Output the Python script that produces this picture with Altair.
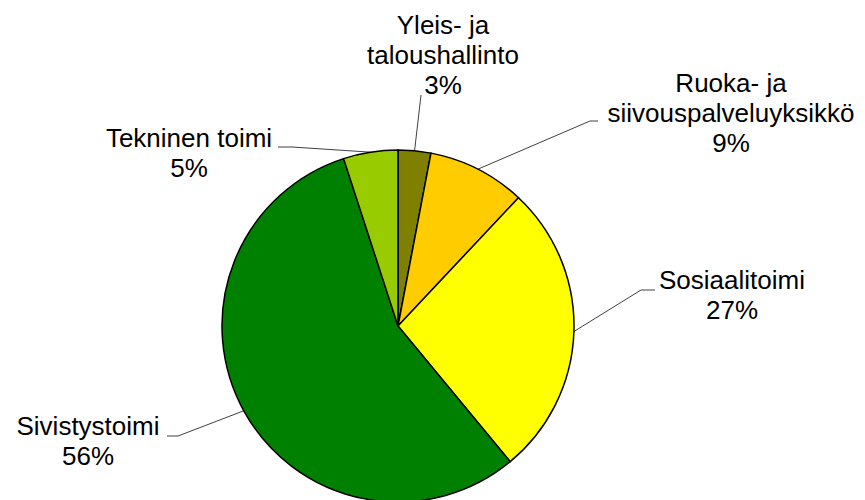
import math
import altair as alt
import pandas as pd

# ---- data ----
categories = ["Yleis- ja taloushallinto", "Ruoka- ja siivouspalveluyksikkö",
              "Sosiaalitoimi", "Sivistystoimi", "Tekninen toimi"]
label_lines = [["Yleis- ja", "taloushallinto"], ["Ruoka- ja", "siivouspalveluyksikkö"],
               ["Sosiaalitoimi"], ["Sivistystoimi"], ["Tekninen toimi"]]
values = [3, 9, 27, 56, 5]

# ---- style / layout ----
colors = ["#808000", "#ffcc00", "#ffff00", "#008000", "#99cc00"]
W, H = 849, 492
CX, CY, R = 390, 318, 176
label_x = [435, 723, 724, 80, 181]
label_y = [26, 84, 281, 427, 139]
elbow_pts = [(413, 87), (582, 113), (633, 282), (170, 428), (284, 139)]
end_pts = [(413, 87), (590, 113), (647, 282), (159, 428), (270, 139)]

df = pd.DataFrame({
    "category": categories,
    "value": values,
    "idx": list(range(len(categories))),
})
df["label"] = [ "\n".join(l + [f"{v}%"]) for l, v in zip(label_lines, values)]
df["lx"] = label_x
df["ly"] = label_y

# leader lines: from slice mid-angle on the rim to the label
total = sum(values)
rows = []
cum = 0
for i, (c, v) in enumerate(zip(categories, values)):
    mid = (cum + v / 2) / total * 2 * math.pi
    cum += v
    ex = CX + R * math.sin(mid)
    ey = CY - R * math.cos(mid)
    pts = [(ex, ey), elbow_pts[i], end_pts[i]]
    for k, (px, py) in enumerate(pts):
        rows.append({"category": c, "k": k, "px": px, "py": py})
lines_df = pd.DataFrame(rows)

pie = alt.Chart(df).mark_arc(outerRadius=R, stroke="black", strokeWidth=1.5).encode(
    theta=alt.Theta("value:Q", stack=True),
    color=alt.Color("category:N", scale=alt.Scale(domain=categories, range=colors), legend=None),
    order=alt.Order("idx:Q"),
    x=alt.value(CX),
    y=alt.value(CY),
)

leaders = alt.Chart(lines_df).mark_line(color="#404040", strokeWidth=1).encode(
    x=alt.X("px:Q", scale=None),
    y=alt.Y("py:Q", scale=None),
    detail="category:N",
    order="k:Q",
)

labels = alt.Chart(df).mark_text(
    align="center", baseline="alphabetic", fontSize=26, lineHeight=30,
    font="Liberation Sans", color="black", lineBreak="\n",
).encode(
    x=alt.X("lx:Q", scale=None),
    y=alt.Y("ly:Q", scale=None),
    text="label:N",
)

chart = alt.layer(leaders, pie, labels).properties(
    width=W, height=H, autosize=alt.AutoSizeParams(type="none"), padding=0,
).configure_view(stroke=None)

chart.save("out.html", embed_options={"renderer": "svg", "actions": False})
